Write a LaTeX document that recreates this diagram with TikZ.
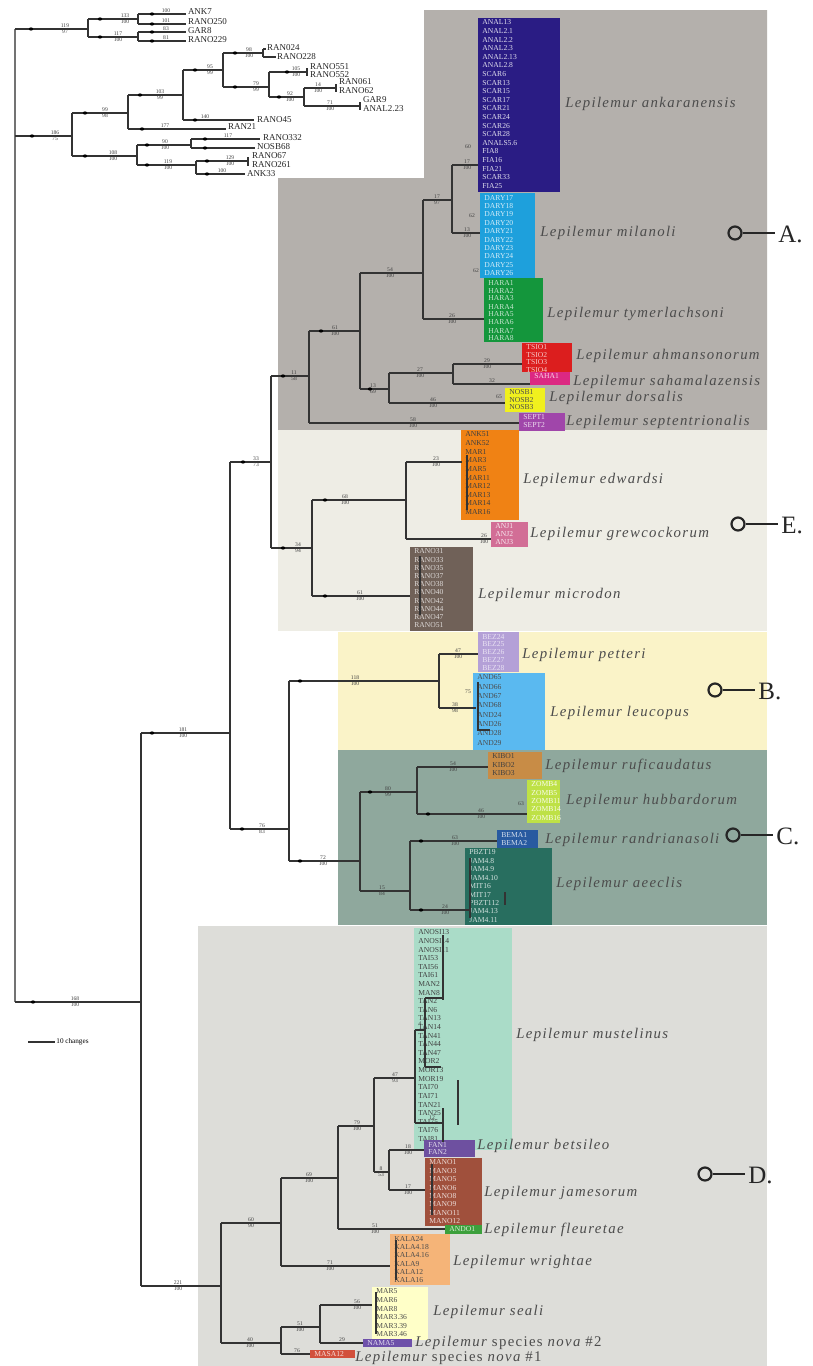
\documentclass[tikz,border=0pt]{standalone}
\usepackage{fontspec}
\setmainfont{Liberation Serif}
\newfontfamily\spf[LetterSpace=9]{Liberation Serif}
\definecolor{panA}{RGB}{180,176,172}
\definecolor{panE}{RGB}{238,237,229}
\definecolor{panB}{RGB}{250,243,200}
\definecolor{panC}{RGB}{143,168,157}
\definecolor{panD}{RGB}{221,221,217}
\definecolor{cAnk}{RGB}{42,28,132}
\definecolor{cMil}{RGB}{30,160,220}
\definecolor{cTym}{RGB}{20,150,60}
\definecolor{cAhm}{RGB}{220,30,30}
\definecolor{cSah}{RGB}{220,40,130}
\definecolor{cDor}{RGB}{240,240,30}
\definecolor{cSep}{RGB}{160,70,170}
\definecolor{cEdw}{RGB}{240,130,20}
\definecolor{cGre}{RGB}{210,110,150}
\definecolor{cMic}{RGB}{112,97,88}
\definecolor{cPet}{RGB}{180,160,215}
\definecolor{cLeu}{RGB}{90,185,240}
\definecolor{cRuf}{RGB}{200,140,70}
\definecolor{cHub}{RGB}{190,225,70}
\definecolor{cRan}{RGB}{40,90,160}
\definecolor{cAee}{RGB}{40,110,95}
\definecolor{cMus}{RGB}{170,220,200}
\definecolor{cBet}{RGB}{110,80,160}
\definecolor{cJam}{RGB}{160,80,60}
\definecolor{cFle}{RGB}{60,160,60}
\definecolor{cWri}{RGB}{245,180,120}
\definecolor{cSea}{RGB}{255,255,200}
\definecolor{cNo2}{RGB}{110,80,170}
\definecolor{cNo1}{RGB}{210,80,60}
\tikzset{
  br/.style={draw=black!80, line width=0.9pt},
  rootline/.style={draw=black!55, line width=1.4pt},
  bs/.style={font=\fontsize{2.8}{2.8}\selectfont, text=black!75, inner sep=0.4pt},
  tx/.style={font=\fontsize{3.8}{3.8}\selectfont, inner sep=0pt, anchor=west},
  sp/.style={font=\spf\itshape\fontsize{7.4}{7.4}\selectfont, text=black!70, anchor=west, inner sep=0pt},
  og/.style={font=\fontsize{4.5}{4.5}\selectfont, text=black!85, anchor=west, inner sep=0.3pt},
  ring/.style={circle, draw=black!85, line width=1.1pt, minimum size=6.5pt, inner sep=0pt},
  lab/.style={font=\fontsize{12.5}{12.5}\selectfont, text=black!85, anchor=west, inner sep=0pt},
  ln/.style={draw=black!85, line width=1.1pt},
  scl/.style={font=\fontsize{3.6}{3.6}\selectfont, anchor=west, inner sep=0.5pt}
}
% horizontal branch: x1 x2 y labelx top bottom
\newcommand\hbr[6]{\draw[br] (#1,#3) -- (#2,#3);
  \node[bs,above] at (#4,#3) {#5}; \node[bs,below] at (#4,#3) {#6};}
\newcommand\vbr[3]{\draw[br] (#1,#2) -- (#1,#3);}
\newcommand\brdot[2]{\fill[black] (#1,#2) ellipse (1.1pt and 0.8pt);}
% block: x1 y1 x2 y2 fill textcolor dy list
\newcommand\spblock[8]{\fill[#5] (#1,#2) rectangle (#3,#4);
  \foreach \t [count=\i from 0] in {#8} {\node[tx,text=#6] at ({#1+4},{#2+4.5+\i*#7}) {\t};}}
% group marker: name x y label
\newcommand\grp[4]{\node[ring] (c#1) at (#2,#3) {};
  \node[lab] (l#1) at ({#2+43},{#3+1}) {#4};
  \draw[ln] (c#1.east) -- ([xshift=-1.5pt]c#1.east -| l#1.west);}
\begin{document}
\begin{tikzpicture}[x=0.5pt,y=-0.5pt]
\useasboundingbox (0,0) rectangle (813,1366);
\fill[white] (0,0) rectangle (813,1366);
% ---------- panels ----------
\fill[panA] (424,10) -- (767,10) -- (767,430) -- (278,430) -- (278,178) -- (424,178) -- cycle;
\fill[panE] (278,430) rectangle (767,631);
\fill[panB] (338,632) rectangle (767,750);
\fill[panC] (338,750) rectangle (767,925);
\fill[panD] (198,926) rectangle (767,1366);
% ---------- species blocks ----------
\spblock{478}{18}{560}{192}{cAnk}{white!85!cAnk}{8.6}{ANAL13,ANAL2.1,ANAL2.2,ANAL2.3,ANAL2.13,ANAL2.8,SCAR6,SCAR13,SCAR15,SCAR17,SCAR21,SCAR24,SCAR26,SCAR28,ANALS5.6,FIA8,FIA16,FIA21,SCAR33,FIA25}
\spblock{480}{193}{535}{278}{cMil}{white!80!cMil}{8.4}{DARY17,DARY18,DARY19,DARY20,DARY21,DARY22,DARY23,DARY24,DARY25,DARY26}
\spblock{484}{278}{543}{342}{cTym}{white!75!cTym}{8}{HARA1,HARA2,HARA3,HARA4,HARA5,HARA6,HARA7,HARA8}
\spblock{522}{343}{572}{372}{cAhm}{white!75!cAhm}{7.5}{TSIO1,TSIO2,TSIO3,TSIO4}
\spblock{530}{372}{570}{385}{cSah}{white!80!cSah}{7}{SAHA1}
\spblock{505}{388}{545}{412}{cDor}{black!70}{7.5}{NOSB1,NOSB2,NOSB3}
\spblock{519}{413}{565}{431}{cSep}{white!80!cSep}{8}{SEPT1,SEPT2}
\spblock{461}{430}{519}{520}{cEdw}{black!75}{8.6}{ANK51,ANK52,MAR1,MAR3,MAR5,MAR11,MAR12,MAR13,MAR14,MAR16}
\spblock{491}{522}{528}{547}{cGre}{white!85!cGre}{7.8}{ANJ1,ANJ2,ANJ3}
\spblock{410}{547}{473}{631}{cMic}{white!75!cMic}{8.2}{RANO31,RANO33,RANO35,RANO37,RANO38,RANO40,RANO42,RANO44,RANO47,RANO51}
\spblock{478}{632}{519}{672}{cPet}{white!70!cPet}{7.8}{BEZ24,BEZ25,BEZ26,BEZ27,BEZ28}
\spblock{473}{673}{545}{750}{cLeu}{black!70}{9.3}{AND65,AND66,AND67,AND68,AND24,AND26,AND28,AND29}
\spblock{488}{752}{542}{779}{cRuf}{black!75}{8.5}{KIBO1,KIBO2,KIBO3}
\spblock{527}{780}{560}{823}{cHub}{white!90!cHub}{8.3}{ZOMB4,ZOMB5,ZOMB11,ZOMB14,ZOMB16}
\spblock{497}{830}{538}{848}{cRan}{white!80!cRan}{8}{BEMA1,BEMA2}
\spblock{465}{848}{552}{925}{cAee}{white!80!cAee}{8.4}{PBZT19,JAM4.8,JAM4.9,JAM4.10,MIT16,MIT17,PBZT112,JAM4.13,JAM4.11}
\spblock{414}{928}{512}{1150}{cMus}{black!75}{8.6}{ANOSI13,ANOSI14,ANOSI11,TAI53,TAI56,TAI61,MAN2,MAN8,TAN2,TAN6,TAN13,TAN14,TAN41,TAN44,TAN47,MOR2,MOR13,MOR19,TAI70,TAI71,TAN21,TAN25,TAI75,TAI76,TAI81}
\spblock{424}{1140}{475}{1157}{cBet}{white!80!cBet}{7.5}{FAN1,FAN2}
\spblock{425}{1158}{482}{1226}{cJam}{white!80!cJam}{8.4}{MANO1,MANO3,MANO5,MANO6,MANO8,MANO9,MANO11,MANO12}
\spblock{445}{1225}{482}{1234}{cFle}{white!80!cFle}{7}{ANDO1}
\spblock{390}{1234}{450}{1285}{cWri}{black!70}{8.4}{KALA24,KALA4.18,KALA4.16,KALA9,KALA12,KALA16}
\spblock{372}{1287}{428}{1340}{cSea}{black!70}{8.6}{MAR5,MAR6,MAR8,MAR3.36,MAR3.39,MAR3.46}
\spblock{363}{1339}{412}{1347}{cNo2}{white!80!cNo2}{7}{NAMA5}
\spblock{310}{1350}{355}{1358}{cNo1}{white!80!cNo1}{7}{MASA12}
% ---------- outgroup ----------
\draw[rootline] (15,29) -- (15,1002);
\hbr{15}{88}{29}{65}{119}{97} \brdot{31}{29}
\vbr{88}{19}{37}
\hbr{88}{138}{19}{125}{133}{100} \brdot{100}{19}
\vbr{138}{14}{24}
\hbr{138}{186}{14}{166}{100}{} \brdot{152}{14}
\hbr{138}{186}{24}{166}{101}{} \brdot{152}{24}
\hbr{88}{138}{37}{118}{117}{100} \brdot{100}{37}
\vbr{138}{32}{41}
\hbr{138}{186}{32}{166}{83}{} \brdot{152}{32}
\hbr{138}{186}{41}{166}{81}{} \brdot{152}{41}
\node[og] (t1) at (187,12) {ANK7};
\node[og] (t2) at (187,22) {RANO250};
\node[og] (t3) at (187,31) {GAR8};
\node[og] (t4) at (187,40) {RANO229};
\hbr{15}{72}{136}{55}{186}{75} \brdot{32}{136}
\vbr{72}{113}{156}
\hbr{72}{128}{113}{105}{99}{98} \brdot{85}{113}
\vbr{128}{95}{129}
\hbr{128}{183}{95}{160}{103}{99} \brdot{140}{95}
\vbr{183}{70}{120}
\hbr{183}{223}{70}{210}{95}{99} \brdot{195}{70}
\vbr{223}{53}{87}
\hbr{223}{263}{53}{249}{98}{100} \brdot{235}{53}
\vbr{263}{49}{57}
\draw[br] (263,49) -- (266,49); \draw[br] (263,57) -- (276,57);
\node[og] (t5) at (266,48) {RAN024};
\node[og] (t6) at (276,57) {RANO228};
\hbr{223}{269}{87}{256}{79}{99} \brdot{235}{87}
\vbr{269}{72}{97}
\hbr{269}{307}{72}{296}{105}{100} \brdot{287}{72}
\vbr{307}{68}{76}
\node[og] (t7) at (309,67) {RANO551};
\node[og] (t8) at (309,75) {RANO552};
\hbr{269}{304}{97}{290}{92}{100} \brdot{279}{97}
\vbr{304}{88}{106}
\hbr{304}{336}{88}{318}{14}{100}
\vbr{336}{84}{92}
\node[og] (t9) at (338,82) {RAN061};
\node[og] (t10) at (338,91) {RANO62};
\hbr{304}{360}{106}{330}{71}{100}
\vbr{360}{102}{110}
\node[og] (t11) at (362,100) {GAR9};
\node[og] (t12) at (362,109) {ANAL2.23};
\hbr{183}{254}{120}{205}{140}{} \brdot{195}{120}
\node[og] (t13) at (256,120) {RANO45};
\hbr{128}{226}{129}{165}{177}{} \brdot{142}{129}
\node[og] (t14) at (227,127) {RAN21};
\hbr{72}{137}{156}{113}{108}{100} \brdot{85}{156}
\vbr{137}{145}{165}
\hbr{137}{191}{145}{165}{90}{100} \brdot{147}{145}
\vbr{191}{139}{148}
\hbr{191}{260}{139}{228}{117}{} \brdot{205}{139}
\hbr{191}{255}{148}{228}{}{} \brdot{205}{148}
\node[og] (t15) at (262,138) {RANO332};
\node[og] (t16) at (256,147) {NOSB68};
\hbr{137}{196}{165}{168}{119}{100} \brdot{147}{165}
\vbr{196}{161}{174}
\hbr{196}{248}{161}{230}{129}{100} \brdot{207}{161}
\vbr{248}{157}{166}
\node[og] (t17) at (251,156) {RANO67};
\node[og] (t18) at (251,165) {RANO261};
\hbr{196}{245}{174}{222}{100}{} \brdot{207}{174}
\node[og] (t19) at (246,174) {ANK33};
% ---------- ingroup backbone ----------
\hbr{15}{141}{1002}{75}{168}{100} \brdot{33}{1002}
\vbr{141}{733}{1286}
\hbr{141}{230}{733}{183}{181}{100} \brdot{152}{733}
\vbr{230}{462}{829}
\hbr{230}{271}{462}{256}{33}{73} \brdot{243}{462}
\vbr{271}{376}{548}
\hbr{271}{309}{376}{294}{11}{58} \brdot{283}{376}
% clade A
\vbr{309}{331}{423}
\hbr{309}{360}{331}{335}{61}{100} \brdot{321}{331}
\vbr{360}{273}{389}
\hbr{360}{423}{273}{390}{54}{100}
\vbr{423}{200}{319}
\hbr{423}{452}{200}{437}{17}{97}
\vbr{452}{165}{233}
\hbr{452}{478}{165}{467}{17}{100}
\hbr{452}{480}{233}{467}{13}{100}
\node[bs] at (468,147) {60}; \node[bs] at (472,216) {62}; \node[bs] at (476,271) {62};
\hbr{423}{484}{319}{452}{26}{100}
\hbr{360}{389}{389}{373}{13}{69} \brdot{370}{389}
\vbr{389}{373}{403}
\hbr{389}{453}{373}{420}{27}{100}
\vbr{453}{364}{384}
\hbr{453}{522}{364}{487}{29}{100}
\hbr{453}{530}{384}{492}{32}{}
\hbr{389}{505}{403}{433}{46}{100}
\node[bs] at (499,397) {65};
\hbr{309}{519}{423}{413}{58}{100}
% clade E
\hbr{271}{312}{548}{298}{34}{94} \brdot{283}{548}
\vbr{312}{500}{596}
\hbr{312}{406}{500}{345}{68}{100} \brdot{325}{500}
\vbr{406}{462}{539}
\hbr{406}{462}{462}{436}{23}{100}
\hbr{406}{491}{539}{484}{26}{100}
\hbr{312}{410}{596}{360}{61}{100} \brdot{325}{596}
\draw[br] (467,455) -- (467,510); \draw[br] (420,556) -- (420,615);
% clades B and C
\hbr{230}{289}{829}{262}{76}{83} \brdot{242}{829}
\vbr{289}{681}{861}
\hbr{289}{439}{681}{355}{118}{100} \brdot{300}{681}
\vbr{439}{654}{708}
\hbr{439}{478}{654}{458}{47}{100}
\hbr{439}{476}{708}{455}{38}{98}
\draw[br] (478,682) -- (478,730) -- (490,730);
\node[bs] at (468,692) {75};
\hbr{289}{360}{861}{323}{72}{100} \brdot{300}{861}
\vbr{360}{792}{891}
\hbr{360}{417}{792}{388}{80}{99} \brdot{370}{792}
\vbr{417}{767}{814}
\hbr{417}{488}{767}{453}{54}{100}
\hbr{417}{527}{814}{481}{46}{100} \brdot{428}{814}
\node[bs] at (521,804) {63};
\hbr{360}{410}{891}{382}{15}{84}
\vbr{410}{841}{910}
\hbr{410}{497}{841}{455}{63}{100} \brdot{421}{841}
\hbr{410}{470}{910}{445}{24}{100} \brdot{421}{910}
\draw[br] (470,858) -- (470,918); \draw[br] (505,892) -- (505,905);
% clade D
\hbr{141}{221}{1286}{178}{221}{100}
\vbr{221}{1223}{1343}
\hbr{221}{281}{1223}{251}{60}{90}
\vbr{281}{1178}{1266}
\hbr{281}{338}{1178}{309}{69}{100}
\vbr{338}{1126}{1229}
\hbr{338}{374}{1126}{357}{79}{100}
\vbr{374}{1078}{1172}
\hbr{374}{415}{1078}{395}{47}{93}
\vbr{415}{1030}{1123}
\draw[br] (415,1030) -- (425,1030);
\vbr{425}{998}{1067}
\draw[br] (425,998) -- (443,998); \draw[br] (425,1067) -- (441,1067);
\draw[br] (443,935) -- (443,1000);
\draw[br] (415,1123) -- (443,1123); \vbr{443}{1108}{1142}
\draw[br] (458,1080) -- (458,1125);
\node[bs] at (420,1024) {4}; \node[bs] at (432,1118) {12};
\hbr{374}{389}{1172}{381}{8}{53}
\vbr{389}{1150}{1190}
\hbr{389}{424}{1150}{408}{18}{100}
\hbr{389}{425}{1190}{408}{17}{100}
\draw[br] (432,1164) -- (432,1215);
\hbr{338}{445}{1229}{375}{51}{100}
\hbr{281}{390}{1266}{330}{71}{100}
\draw[br] (396,1240) -- (396,1280);
\hbr{221}{281}{1343}{250}{40}{100}
\vbr{281}{1327}{1354}
\hbr{281}{320}{1327}{300}{51}{100}
\vbr{320}{1305}{1343}
\hbr{320}{372}{1305}{357}{56}{100}
\draw[br] (376,1292) -- (376,1334);
\hbr{320}{363}{1343}{342}{29}{}
\hbr{281}{310}{1354}{297}{76}{}
% ---------- species names ----------
\node[sp] (sAnk) at (565,104) {Lepilemur ankaranensis};
\node[sp] (sMil) at (540,233) {Lepilemur milanoli};
\node[sp] (sTym) at (547,314) {Lepilemur tymerlachsoni};
\node[sp] (sAhm) at (576,356) {Lepilemur ahmansonorum};
\node[sp] (sSah) at (573,382) {Lepilemur sahamalazensis};
\node[sp] (sDor) at (549,398) {Lepilemur dorsalis};
\node[sp] (sSep) at (566,422) {Lepilemur septentrionalis};
\node[sp] (sEdw) at (523,480) {Lepilemur edwardsi};
\node[sp] (sGre) at (530,534) {Lepilemur grewcockorum};
\node[sp] (sMic) at (478,595) {Lepilemur microdon};
\node[sp] (sPet) at (522,655) {Lepilemur petteri};
\node[sp] (sLeu) at (550,713) {Lepilemur leucopus};
\node[sp] (sRuf) at (545,766) {Lepilemur ruficaudatus};
\node[sp] (sHub) at (566,801) {Lepilemur hubbardorum};
\node[sp] (sRan) at (545,840) {Lepilemur randrianasoli};
\node[sp] (sAee) at (556,884) {Lepilemur aeeclis};
\node[sp] (sMus) at (516,1035) {Lepilemur mustelinus};
\node[sp] (sBet) at (477,1146) {Lepilemur betsileo};
\node[sp] (sJam) at (484,1193) {Lepilemur jamesorum};
\node[sp] (sFle) at (484,1230) {Lepilemur fleuretae};
\node[sp] (sWri) at (453,1262) {Lepilemur wrightae};
\node[sp] (sSea) at (433,1312) {Lepilemur seali};
\node[sp] (sNo2) at (415,1343) {Lepilemur {\upshape species} nova {\upshape\#2}};
\node[sp] (sNo1) at (355,1358) {Lepilemur {\upshape species} nova {\upshape\#1}};
% ---------- group markers ----------
\grp{A}{735}{233}{A.}
\grp{E}{738}{524}{E.}
\grp{B}{715}{690}{B.}
\grp{C}{733}{835}{C.}
\grp{D}{705}{1174}{D.}
% ---------- scale bar ----------
\coordinate (sb1) at (28,1042);
\node[scl] (sbt) at (55,1042) {10 changes};
\draw[br] (sb1) -- (sbt.west);
\end{tikzpicture}
\end{document}
